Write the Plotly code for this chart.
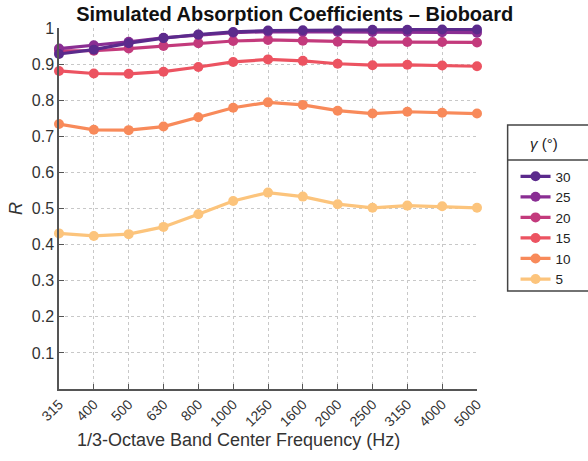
import plotly.graph_objects as go

freqs = ["315", "400", "500", "630", "800", "1000", "1250", "1600", "2000", "2500", "3150", "4000", "5000"]
gammas = ["5", "10", "15", "20", "25", "30"]
r_5 = [0.431, 0.424, 0.429, 0.449, 0.484, 0.521, 0.544, 0.533, 0.512, 0.502, 0.508, 0.506, 0.502]
r_10 = [0.734, 0.718, 0.717, 0.727, 0.753, 0.779, 0.794, 0.787, 0.771, 0.763, 0.768, 0.765, 0.763]
r_15 = [0.881, 0.874, 0.873, 0.879, 0.892, 0.906, 0.913, 0.909, 0.901, 0.897, 0.898, 0.896, 0.894]
r_20 = [0.937, 0.937, 0.943, 0.950, 0.958, 0.964, 0.967, 0.965, 0.962, 0.961, 0.961, 0.961, 0.960]
r_25 = [0.943, 0.952, 0.962, 0.973, 0.981, 0.987, 0.990, 0.990, 0.989, 0.989, 0.989, 0.988, 0.987]
r_30 = [0.928, 0.940, 0.958, 0.972, 0.982, 0.989, 0.993, 0.994, 0.994, 0.995, 0.995, 0.996, 0.996]
series = [r_5, r_10, r_15, r_20, r_25, r_30]
colors = ["#fcc47c", "#f88a5a", "#ec5361", "#c33a7c", "#8a2e93", "#5b2a8c"]
y_ticks = [0.1, 0.2, 0.3, 0.4, 0.5, 0.6, 0.7, 0.8, 0.9, 1]
y_labels = ["0.1", "0.2", "0.3", "0.4", "0.5", "0.6", "0.7", "0.8", "0.9", "1"]

FONT = "Liberation Sans, Arial, sans-serif"
W, H = 588, 461
ML, MR, MT, MB = 59, 106, 28, 72
PW = W - ML - MR
PH = H - MT - MB

fig = go.Figure()
for g, vals, c in zip(gammas, series, colors):
    fig.add_trace(go.Scatter(
        x=freqs, y=vals, name=g, mode="lines+markers",
        line=dict(color=c, width=3.2),
        marker=dict(color=c, size=10, symbol="circle"),
        cliponaxis=False,
    ))

def px_x(p):
    return (p - ML) / PW

def px_y(p):
    return 1 - (p - MT) / PH

fig.update_layout(
    width=W, height=H,
    margin=dict(l=ML, r=MR, t=MT, b=MB),
    paper_bgcolor="white", plot_bgcolor="white",
    font=dict(family=FONT, color="#222"),
    title=dict(text="<b>Simulated Absorption Coefficients – Bioboard</b>",
               x=px_x(271), xanchor="center", y=1 - 14 / H, yanchor="middle",
               font=dict(size=20, color="#111")),
    xaxis=dict(type="category", range=[0, 12], showgrid=True,
               gridcolor="#c8c8c8", griddash="dot", gridwidth=1,
               showline=True, linecolor="#555", linewidth=1.5,
               ticks="inside", ticklen=5, tickcolor="#555",
               tickangle=-45, tickfont=dict(size=14, color="#333"),
               zeroline=False),
    yaxis=dict(range=[0, 1], tickvals=y_ticks, ticktext=y_labels,
               showgrid=True, gridcolor="#c8c8c8", griddash="dot", gridwidth=1,
               showline=True, linecolor="#555", linewidth=1.5,
               ticks="inside", ticklen=5, tickcolor="#555",
               tickfont=dict(size=16, color="#333"),
               title=dict(text="<i>R</i>", font=dict(size=18, color="#333"), standoff=4),
               zeroline=False),
    legend=dict(x=px_x(521), xanchor="left", y=px_y(161), yanchor="top",
                traceorder="reversed", bgcolor="rgba(0,0,0,0)", borderwidth=0,
                font=dict(size=13.5, color="#222"), itemwidth=30,
                tracegroupgap=0),
    showlegend=True,
)

fig.add_annotation(text="1/3-Octave Band Center Frequency (Hz)", xref="paper", yref="paper",
                   x=px_x(241), y=px_y(440), xanchor="center", yanchor="middle",
                   showarrow=False, font=dict(size=18, color="#333"))
fig.add_annotation(text="<i>γ</i> (°)", xref="paper", yref="paper",
                   x=px_x(550), y=px_y(143), xanchor="center", yanchor="middle",
                   showarrow=False, font=dict(size=15, color="#222"))
fig.add_shape(type="rect", xref="paper", yref="paper",
              x0=px_x(513), x1=px_x(600), y0=px_y(291), y1=px_y(125),
              line=dict(color="#444", width=1.5), fillcolor="rgba(0,0,0,0)")
fig.add_shape(type="line", xref="paper", yref="paper",
              x0=px_x(513), x1=px_x(600), y0=px_y(160), y1=px_y(160),
              line=dict(color="#444", width=1.5))

fig.write_html("out.html")
